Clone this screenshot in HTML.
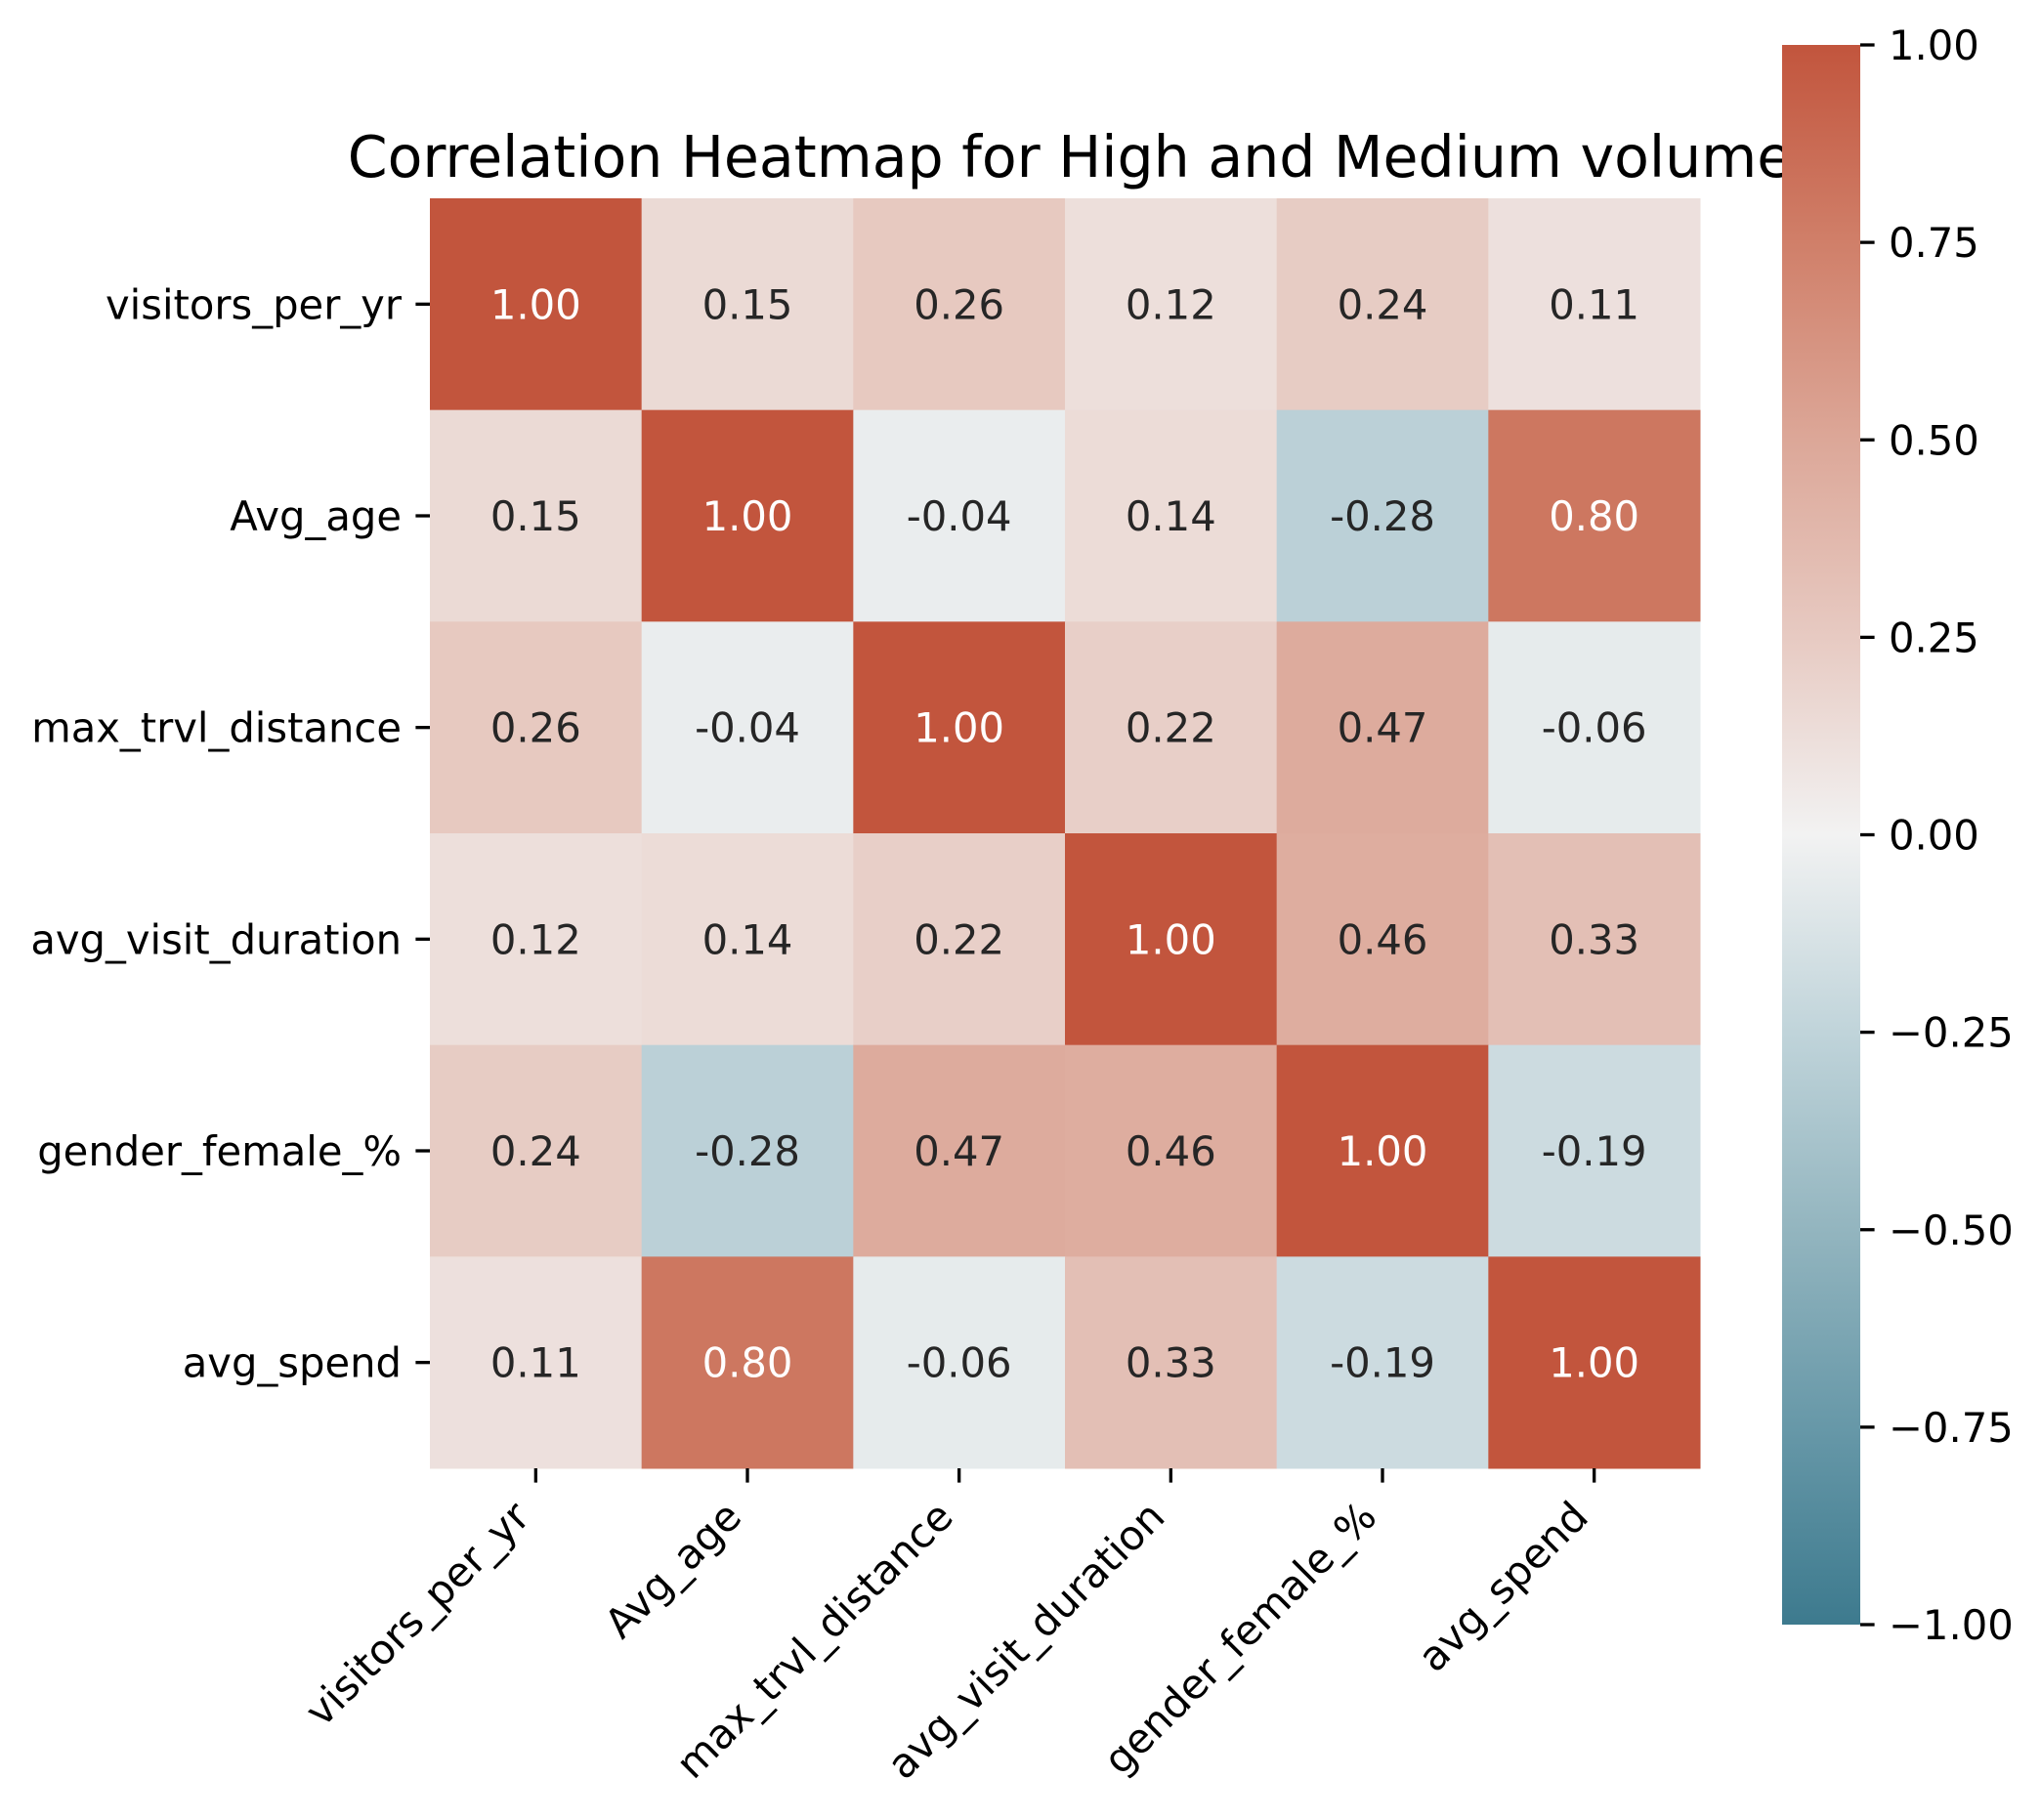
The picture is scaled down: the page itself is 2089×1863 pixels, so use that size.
<!DOCTYPE html>
<html><head><meta charset="utf-8"><style>
html,body{margin:0;padding:0;background:#fff;}
svg{display:block;font-family:"DejaVu Sans","Liberation Sans",sans-serif;}
</style></head><body>
<svg id="chart" width="2089" height="1863" viewBox="0 0 2089 1863" xmlns="http://www.w3.org/2000/svg">
<rect width="2089" height="1863" fill="#fff"/>
<text x="1095" y="181" font-size="58.5" text-anchor="middle" fill="#000">Correlation Heatmap for High and Medium volume</text>
<defs><linearGradient id="cbgrad" x1="0" y1="1" x2="0" y2="0"></linearGradient></defs>
<g id="cells"></g><g id="yaxis"></g><g id="xaxis"></g><g id="cbar"></g>
</svg>
<script>
const labels = ["visitors_per_yr","Avg_age","max_trvl_distance","avg_visit_duration","gender_female_%","avg_spend"];
const row0 = [1.00,0.15,0.26,0.12,0.24,0.11];
const row1 = [0.15,1.00,-0.04,0.14,-0.28,0.80];
const row2 = [0.26,-0.04,1.00,0.22,0.47,-0.06];
const row3 = [0.12,0.14,0.22,1.00,0.46,0.33];
const row4 = [0.24,-0.28,0.47,0.46,1.00,-0.19];
const row5 = [0.11,0.80,-0.06,0.33,-0.19,1.00];
const matrix = [row0,row1,row2,row3,row4,row5];
const stopVals = [-1,-0.75,-0.5,-0.25,0,0.25,0.5,0.75,1];
const stopCols = ["#3d7a8e","#6798a8","#93b5bf","#c0d4da","#f2f2f2","#e7cac2","#dca798","#d07f69","#c2553d"];
const cbTicks = [1,0.75,0.5,0.25,0,-0.25,-0.5,-0.75,-1];
const cbTickLabels = ["1.00","0.75","0.50","0.25","0.00","\u22120.25","\u22120.50","\u22120.75","\u22121.00"];

const NS="http://www.w3.org/2000/svg";
const L=440,T=203,W=1300,H=1300;
const n=labels.length, cw=W/n, ch=H/n;
const xPos=i=>L+i*cw, yPos=i=>T+i*ch;
const CB={x:1824,w:80,top:46,bot:1663};
const cbY=v=>CB.bot-(v+1)/2*(CB.bot-CB.top);
function hex(c){return [1,3,5].map(i=>parseInt(c.substr(i,2),16));}
function color(v){
  for(let i=0;i<stopVals.length-1;i++){
    if(v<=stopVals[i+1]){const t=(v-stopVals[i])/(stopVals[i+1]-stopVals[i]);
      const a=hex(stopCols[i]),b=hex(stopCols[i+1]);
      return "rgb("+a.map((x,k)=>Math.round(x+(b[k]-x)*t)).join(",")+")";}
  }
  return stopCols[stopCols.length-1];
}
function mk(tag,attrs,parent){const e=document.createElementNS(NS,tag);for(const k in attrs)e.setAttribute(k,attrs[k]);parent.appendChild(e);return e;}
const cells=document.getElementById('cells');
matrix.forEach((row,r)=>row.forEach((v,c)=>{
  const rect=mk('rect',{x:xPos(c),y:yPos(r),width:cw+0.5,height:ch+0.5,fill:color(v)},cells);
  
  
  const t=mk('text',{x:xPos(c)+cw/2,y:yPos(r)+ch/2+15,'font-size':41.7,'text-anchor':'middle',fill:v>0.7?'#ffffff':'#262626'},cells);
  t.textContent=v.toFixed(2);
  
  
}));
const ya=document.getElementById('yaxis'), xa=document.getElementById('xaxis');
labels.forEach((lab,i)=>{
  const cy=yPos(i)+ch/2;
  mk('line',{x1:L-14.6,x2:L,y1:cy,y2:cy,stroke:'#000','stroke-width':3.3},ya);
  const t=mk('text',{x:L-29,y:cy+15,'font-size':41.7,'text-anchor':'end',fill:'#000'},ya);
  t.textContent=lab;
  
  
  const cx=xPos(i)+cw/2;
  mk('line',{x1:cx,x2:cx,y1:T+H,y2:T+H+14.6,stroke:'#000','stroke-width':3.3},xa);
  const px=cx-4, py=T+H+52;
  const u=mk('text',{x:px,y:py,'font-size':41.7,'text-anchor':'end',fill:'#000',transform:`rotate(-45 ${px} ${py})`},xa);
  u.textContent=lab;
  
  
});
const grad=document.getElementById('cbgrad');
stopVals.forEach((v,i)=>mk('stop',{offset:((v+1)/2*100)+'%','stop-color':stopCols[i]},grad));
const cb=document.getElementById('cbar');
const bar=mk('rect',{x:CB.x,y:CB.top,width:CB.w,height:CB.bot-CB.top,fill:'url(#cbgrad)'},cb);


cbTicks.forEach((v,i)=>{
  const y=cbY(v);
  mk('line',{x1:CB.x+CB.w,x2:CB.x+CB.w+14.6,y1:y,y2:y,stroke:'#000','stroke-width':3.3},cb);
  const t=mk('text',{x:CB.x+CB.w+29,y:y+15,'font-size':41.7,fill:'#000'},cb);
  t.textContent=cbTickLabels[i];
  
  
});
</script>
</body></html>
